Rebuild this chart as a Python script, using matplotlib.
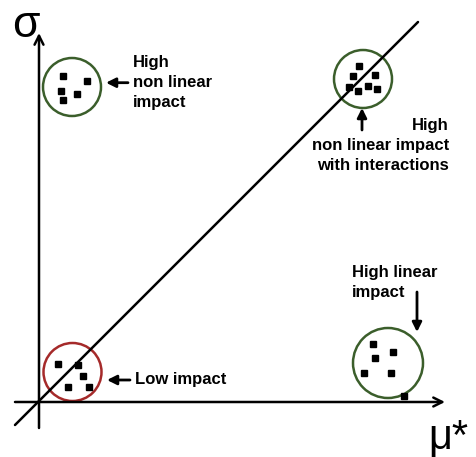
"""Morris screening sketch: sigma vs mu* with impact regions."""

import matplotlib

matplotlib.use("Agg")
from matplotlib import pyplot as plt
from matplotlib.patches import Circle

plt.rcParams["font.family"] = ["Liberation Sans", "DejaVu Sans"]

# sample points for each group, in (mu*, sigma)
low_mu = [19.3, 38.7, 44.3, 28.7, 50.0]
low_sigma = [37.7, 37.0, 26.0, 14.7, 14.7]
nonlin_mu = [23.7, 48.0, 22.0, 37.7, 23.7]
nonlin_sigma = [326.3, 321.3, 311.3, 307.7, 302.0]
inter_mu = [320.3, 314.3, 336.0, 310.3, 329.3, 318.7, 337.7]
inter_sigma = [336.0, 326.0, 327.0, 315.3, 316.3, 311.3, 312.7]
lin_mu = [333.7, 353.7, 336.0, 325.3, 351.7, 365.3]
lin_sigma = [58.0, 49.7, 43.7, 29.3, 29.3, 6.5]

# group circles: centre mu, centre sigma, radius, colour
circle_mu = [33.5, 33.0, 324.0, 349.0]
circle_sigma = [30.0, 315.0, 323.0, 39.0]
circle_r = [29, 29, 29, 35]
circle_color = ["#a52a2a", "#3b5e2b", "#3b5e2b", "#3b5e2b"]

fig = plt.figure(figsize=(4.76, 4.57), dpi=100)
ax = fig.add_axes([0, 0, 1, 1])
ax.set_xlim(-39, 437)
ax.set_ylim(-55, 402)
ax.set_aspect("equal")
ax.axis("off")

# axes with arrows
ax.annotate("", xy=(0, 369), xytext=(0, -26),
            arrowprops=dict(arrowstyle="->", lw=1.8, color="black",
                            mutation_scale=16, shrinkA=0, shrinkB=0))
ax.annotate("", xy=(406, 0), xytext=(-24, 0),
            arrowprops=dict(arrowstyle="->", lw=1.8, color="black",
                            mutation_scale=16, shrinkA=0, shrinkB=0))
# diagonal
ax.plot([-24, 379], [-23, 380], color="black", lw=1.8, solid_capstyle="round")

ax.text(-27, 365, "σ", fontsize=32, ha="left", va="baseline")
ax.text(389, -47, "μ*", fontsize=30, ha="left", va="baseline")

for cx, cy, r, c in zip(circle_mu, circle_sigma, circle_r, circle_color):
    ax.add_patch(Circle((cx, cy), r, fill=False, ec=c, lw=1.8))

for xs, ys in [(low_mu, low_sigma), (nonlin_mu, nonlin_sigma),
               (inter_mu, inter_sigma), (lin_mu, lin_sigma)]:
    ax.plot(xs, ys, "s", color="black", ms=4.5, ls="none")

# label arrows
arrow = dict(arrowstyle="-|>", lw=2, color="black", mutation_scale=14,
             shrinkA=0, shrinkB=0)
ax.annotate("", xy=(67, 319.3), xytext=(89, 319.3), arrowprops=arrow)
ax.annotate("", xy=(323, 294), xytext=(323, 272), arrowprops=arrow)
ax.annotate("", xy=(378, 70), xytext=(378, 110), arrowprops=arrow)
ax.annotate("", xy=(68, 22), xytext=(91, 22), arrowprops=arrow)

# multi-line labels: anchored at the baseline of the last line
txt = dict(fontsize=12, fontweight="bold", va="baseline", linespacing=1.4)
ax.text(94, 295.3, "High\nnon linear\nimpact", ha="left", **txt)
ax.text(410, 232, "High\nnon linear impact\nwith interactions", ha="right",
        multialignment="right", **txt)
ax.text(312.7, 105.3, "High linear\nimpact", ha="left", **txt)
ax.text(96, 18, "Low impact", ha="left", **txt)

fig.savefig("out.png", dpi=100)
